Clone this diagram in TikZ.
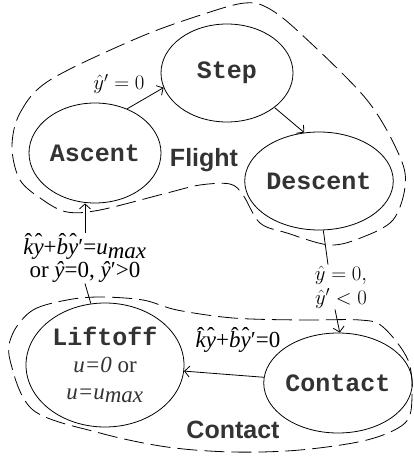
\documentclass[tikz,border=0pt]{standalone}
\usepackage[no-math]{fontspec}
\setmainfont{Liberation Serif}
\newfontfamily\courb{Liberation Mono}
\newfontfamily\helv{Liberation Sans}
\usetikzlibrary{shapes.geometric,arrows.meta}
\newcommand\hi[1]{{\setbox0\hbox{\itshape #1}\copy0\kern-\wd0\hbox to\wd0{\hss\raisebox{0.2em}{\upshape\char"02C6}\hss}}}
\newcommand\hy{\textit{\^y}}
\newcommand\pr{\char"2032}
\tikzset{
 state/.style={draw, ellipse, inner sep=0pt, line width=0.8pt, align=center,
   font=\courb\bfseries\fontsize{25}{28}\selectfont, text=black!80},
 region/.style={draw, dash pattern=on 20pt off 7pt, line width=0.8pt},
 conn/.style={line width=0.8pt, -{Straight Barb[length=5pt,width=11pt]}},
 plainline/.style={line width=0.8pt},
 lbl/.style={font=\fontsize{23}{23}\selectfont, inner sep=1pt, align=center},
 mlbl/.style={font=\fontsize{22}{24}\selectfont, inner sep=1pt, align=center},
 zone/.style={font=\helv\bfseries\fontsize{25}{28}\selectfont, text=black!80}
}
\begin{document}
\begin{tikzpicture}[x=1pt,y=-1pt]
\useasboundingbox (0,0) rectangle (414,457);
% regions
\draw[region] plot[smooth cycle, tension=0.55] coordinates {
 (12,147) (20,113) (50,80) (140,37) (207,13) (245,3) (268,8) (300,33)
 (367,100) (400,157) (405,187) (393,220) (363,237) (330,245) (287,233)
 (260,223) (243,195) (230,184) (200,185) (167,193) (100,210) (67,212)
 (43,200) (20,180)};
\draw[region] plot[smooth cycle, tension=0.55] coordinates {
 (13,333) (33,310) (67,300) (100,297) (143,300) (177,310) (233,318)
 (300,320) (360,320) (383,327) (408,360) (412,397) (405,423) (367,440)
 (300,450) (233,452) (167,447) (100,433) (33,410) (10,360)};
% states
\node[state, minimum width=132pt, minimum height=98pt] (step) at (227,73) {Step};
\node[state, minimum width=132pt, minimum height=100pt] (ascent) at (95,153) {Ascent};
\node[state, minimum width=133pt, minimum height=98pt] (descent) at (319,181) {Descent};
\node[state, minimum width=158pt, minimum height=124pt] (liftoff) at (105,365)
 {Liftoff\\[-1pt]{\rmfamily\mdseries\fontsize{23}{28}\selectfont\textit{u=0} or}\\[-1pt]
  {\rmfamily\mdseries\fontsize{23}{28}\selectfont\textit{u=u}$_{\textit{max}}$}};
\node[state, minimum width=132pt, minimum height=100pt] (contact) at (338,383) {Contact};
% zone labels
\node[zone] (flightlbl) at (204,160) {Flight};
\node[zone] (contactlbl) at (233,430) {Contact};
% edge labels
\node[mlbl] (lab0) at (119,84) {$\hat{y}'=0$};
\node[mlbl] (lab2) at (341,287) {$\hat{y}=0,$\\$\hat{y}'<0$};
\node[lbl] (lab1) at (85,258) {\hi{k}\hi{y}+\hi{b}\hi{y}\pr=\textit{u}$_{\textit{max}}$\\or \hy=0, \hy\pr>0};
\node[lbl] (lab3) at (238,340) {\hi{k}\hi{y}+\hi{b}\hi{y}\pr=0};
% connectors
\draw[conn] (ascent.54) -- (step.193);
\draw[conn] (step.-36) -- (descent.107);
\draw[plainline] (descent.-85) -- ([xshift=-13pt]lab2.north);
\draw[conn] ([xshift=-6pt]lab2.south) -- (contact.88);
\draw[conn] (contact) -- (liftoff);
\draw[plainline] (liftoff.103) -- (lab1.south);
\draw[conn] (lab1.north) -- (lab1.north |- ascent.south);
\end{tikzpicture}
\end{document}
